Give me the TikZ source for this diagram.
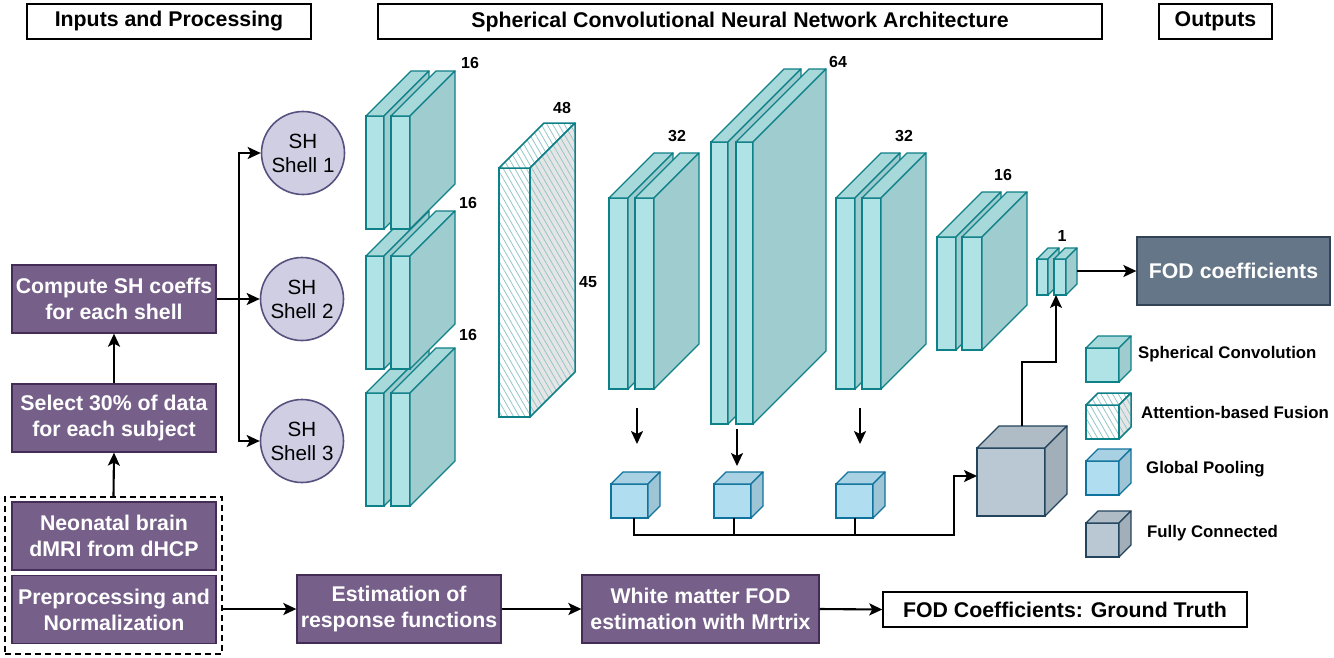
\documentclass[tikz,border=0pt]{standalone}
\usepackage{fontspec}
\setmainfont{Liberation Sans}
\usetikzlibrary{arrows.meta,patterns.meta,calc}
\definecolor{purp}{HTML}{76608A}
\definecolor{purpS}{HTML}{432D57}
\definecolor{lav}{HTML}{D0CEE2}
\definecolor{lavS}{HTML}{56517E}
\definecolor{tealF}{HTML}{B0E3E6}
\definecolor{tealS}{HTML}{0E8088}
\definecolor{blueF}{HTML}{B1DDF0}
\definecolor{blueS}{HTML}{10739E}
\definecolor{grayF}{HTML}{BAC8D3}
\definecolor{grayS}{HTML}{23445D}
\definecolor{slate}{HTML}{647687}
\definecolor{slateS}{HTML}{314354}
\tikzset{
  conv front/.style={fill=tealF, draw=tealS, line width=1.3pt},
  conv top/.style={fill=tealF!95!black, draw=tealS, line width=1.3pt, line join=round},
  conv side/.style={fill=tealF!90!black, draw=tealS, line width=1.3pt, line join=round},
  pool front/.style={fill=blueF, draw=blueS, line width=1.3pt},
  pool top/.style={fill=blueF!95!black, draw=blueS, line width=1.3pt, line join=round},
  pool side/.style={fill=blueF!89!black, draw=blueS, line width=1.3pt, line join=round},
  fc front/.style={fill=grayF, draw=grayS, line width=1.3pt},
  fc top/.style={fill=grayF!94!black, draw=grayS, line width=1.3pt, line join=round},
  fc side/.style={fill=grayF!87!black, draw=grayS, line width=1.3pt, line join=round},
  att front/.style={preaction={fill=white}, pattern={Lines[angle=-60,distance=5pt,line width=0.8pt]}, pattern color=tealS!45, draw=tealS, line width=1.5pt},
  att top/.style={preaction={fill=white}, pattern={Lines[angle=-60,distance=5pt,line width=0.8pt]}, pattern color=tealS!45, draw=tealS, line width=1.5pt, line join=round},
  att side/.style={preaction={fill=black!10}, pattern={Lines[angle=-60,distance=5pt,line width=0.8pt]}, pattern color=tealS!45, draw=tealS, line width=1.5pt, line join=round},
  bigfont/.style={font=\bfseries\fontsize{21.3}{26}\selectfont},
  hdr/.style={draw=black, line width=1.4pt, minimum height=35pt, inner sep=0pt, bigfont},
  pbox/.style={fill=purp, draw=purpS, line width=1.3pt, text=white, minimum width=204pt, minimum height=68pt, inner sep=0pt, align=center, bigfont},
  shell/.style={circle, fill=lav, draw=lavS, line width=1.6pt, minimum size=83pt, inner sep=0pt, align=center, font=\fontsize{20.6}{24}\selectfont},
  dimlab/.style={font=\bfseries\fontsize{16}{18}\selectfont, inner sep=0pt},
  legtext/.style={font=\bfseries\fontsize{16.8}{19}\selectfont, anchor=west, inner sep=0pt},
  arr/.style={-{Stealth[length=13pt,width=12pt,inset=3pt]}, line width=2.1pt},
  wire/.style={line width=2.1pt},
}
% #1 name, #2 kind, #3 x, #4 y (top), #5 w, #6 h, #7 depth
\newcommand\slab[7]{%
  \node[#2 front, anchor=north west, minimum width=#5pt, minimum height=#6pt, inner sep=0pt, outer sep=0pt] (#1) at (#3,#4) {};
  \draw[#2 top] (#1.north west) -- ++(#7pt,#7pt) -- ([shift={(#7pt,#7pt)}]#1.north east) -- (#1.north east) -- cycle;
  \draw[#2 side] (#1.north east) -- ++(#7pt,#7pt) -- ([shift={(#7pt,#7pt)}]#1.south east) -- (#1.south east) -- cycle;
}
\begin{document}
\begin{tikzpicture}[x=1pt,y=-1pt]
\useasboundingbox (0,0) rectangle (1334,657);
\fill[white] (0,0) rectangle (1334,657);

% headers
\node[hdr, minimum width=284pt] (h1) at (169,21.5) {Inputs and Processing};
\node[hdr, minimum width=724pt] (h2) at (740,21.5) {Spherical Convolutional Neural Network Architecture};
\node[hdr, minimum width=113pt] (h3) at (1215.5,21.5) {Outputs};

% left column
\node[draw=black, dashed, dash pattern=on 6pt off 4pt, line width=1.6pt, minimum width=217pt, minimum height=157pt, inner sep=0pt] (grp) at (113.5,575.5) {};
\node[pbox] (compute) at (114,299) {Compute SH coeffs\\for each shell};
\node[pbox] (select) at (114,418) {Select 30\% of data\\for each subject};
\node[pbox] (neo) at (114,536) {Neonatal brain\\dMRI from dHCP};
\node[pbox] (prep) at (114,609.5) {Preprocessing and\\Normalization};

\draw[arr] (grp.north) -- (select.south);
\draw[arr] (select.north) -- (compute.south);

% shells
\node[shell] (sh1) at (303,153) {SH\\Shell 1};
\node[shell] (sh2) at (302,299) {SH\\Shell 2};
\node[shell] (sh3) at (302,441) {SH\\Shell 3};
\draw[arr] (compute.east) -- (sh2.west);
\draw[arr] (compute.east) -- ++(22pt,0) |- (sh1.west);
\draw[arr] (compute.east) -- ++(22pt,0) |- (sh3.west);

% bottom flow
\node[pbox] (est) at (399,609) {Estimation of\\response functions};
\node[pbox, minimum width=237pt] (wm) at (700.5,609) {White matter FOD\\estimation with Mrtrix};
\node[hdr, minimum width=364pt, fill=white] (gt) at (1065,609.5) {FOD Coefficients: Ground Truth};
\draw[arr] (grp.east |- est.west) -- (est.west);
\draw[arr] (est.east) -- (wm.west);
\draw[arr] (wm.east) -- (gt.west);

% first column of conv blocks
\slab{b3a}{conv}{366}{393}{18}{113}{45}
\slab{b3b}{conv}{391}{393}{19}{113}{45}
\slab{b2a}{conv}{366}{256}{18}{113}{45}
\slab{b2b}{conv}{391}{256}{19}{113}{45}
\slab{b1a}{conv}{366}{116}{18}{113}{45}
\slab{b1b}{conv}{391}{116}{19}{113}{45}
\node[dimlab] (l1) at (470,63) {16};
\node[dimlab] (l2) at (468,203) {16};
\node[dimlab] (l3) at (468,335) {16};

% attention fusion
\slab{att}{att}{499}{168}{31}{249}{45}
\node[dimlab] (l48) at (562,108) {48};
\node[dimlab] (l45) at (588,282) {45};

% conv column 2
\slab{c2a}{conv}{609}{198}{19}{191}{45}
\slab{c2b}{conv}{635}{198}{19}{191}{45}
\node[dimlab] (l32a) at (677,136) {32};
% conv column 3
\slab{c3a}{conv}{711}{142}{17}{282}{73}
\slab{c3b}{conv}{736}{142}{17}{282}{73}
\node[dimlab] (l64) at (838,62) {64};
% conv column 4
\slab{c4a}{conv}{836}{198}{19}{191}{45}
\slab{c4b}{conv}{862}{198}{19}{191}{45}
\node[dimlab] (l32b) at (904,136) {32};
% conv column 5
\slab{c5a}{conv}{937}{237}{19}{113}{45}
\slab{c5b}{conv}{962}{237}{20}{113}{45}
\node[dimlab] (l16) at (1003,175) {16};
% conv column 6
\slab{c6a}{conv}{1037}{259}{11}{36}{11}
\slab{c6b}{conv}{1054}{259}{12}{36}{11}
\node[dimlab] (l1b) at (1062,236) {1};

% output
\node[fill=slate, draw=slateS, line width=1.3pt, minimum width=193pt, minimum height=68pt, text=white, bigfont] (fod) at (1233.5,271) {FOD coefficients};
\coordinate (c6r) at ([xshift=11pt]c6b.east);
\draw[arr] (c6r |- fod.west) -- (fod.west);

% pooling
\slab{p1}{pool}{611}{484}{37}{34}{12}
\slab{p2}{pool}{714}{484}{37}{34}{12}
\slab{p3}{pool}{836}{484}{37}{34}{12}
\coordinate (d1s) at (637,408); \coordinate (d1e) at (637,444);
\coordinate (d2s) at (737,429); \coordinate (d2e) at (737,466);
\coordinate (d3s) at (860,408); \coordinate (d3e) at (860,444);
\draw[arr] (d1s) -- (d1e);
\draw[arr] (d2s) -- (d2e);
\draw[arr] (d3s) -- (d3e);

% fully connected
\slab{fc}{fc}{977}{448}{68}{68}{22}
\coordinate (busR) at (954,535);
\coordinate (p1b) at ([xshift=4.5pt]p1.south);
\coordinate (p2b) at ([xshift=1.5pt]p2.south);
\coordinate (p3b) at ([xshift=0.5pt]p3.south);
\draw[arr] (p1b) |- (busR) |- ([yshift=6pt]fc.west);
\draw[wire] (p2b) -- (p2b |- busR);
\draw[wire] (p3b) -- (p3b |- busR);
\coordinate (fcTop) at (1022,426);
\coordinate (fcBend) at (1022,362);
\draw[arr] (fcTop) -- (fcBend) -| ([xshift=-4pt]c6b.south);

% legend
\slab{lg1}{conv}{1086}{348}{33}{34}{12}
\slab{lg2}{att}{1086}{405}{33}{34}{12}
\slab{lg3}{pool}{1086}{461}{33}{34}{12}
\slab{lg4}{fc}{1086}{523}{33}{34}{12}
\node[legtext] (t1) at (1138,354) {Spherical Convolution};
\node[legtext] (t2) at (1141,412) {Attention-based Fusion};
\node[legtext] (t3) at (1146,469) {Global Pooling};
\node[legtext] (t4) at (1147,533) {Fully Connected};
\end{tikzpicture}
\end{document}
